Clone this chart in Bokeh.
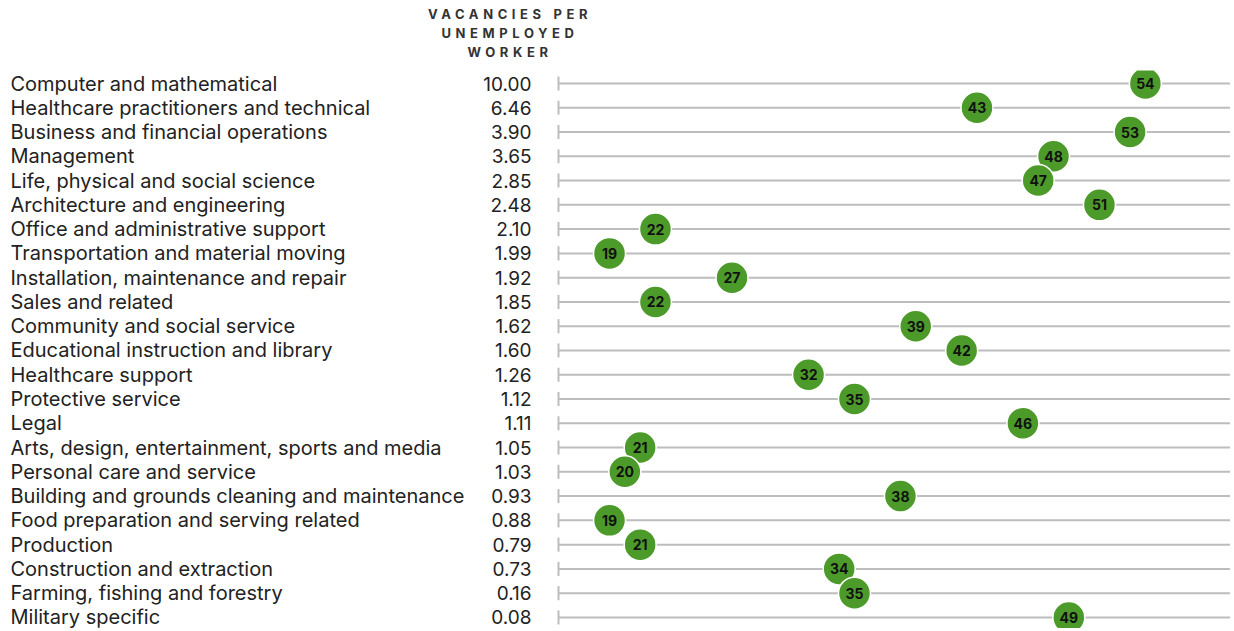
from bokeh.plotting import figure
from bokeh.models import ColumnDataSource, Range1d, Div
from bokeh.layouts import column
from bokeh.core.properties import value
from bokeh.embed import file_html
from bokeh.resources import INLINE

occupations = [
    "Computer and mathematical",
    "Healthcare practitioners and technical",
    "Business and financial operations",
    "Management",
    "Life, physical and social science",
    "Architecture and engineering",
    "Office and administrative support",
    "Transportation and material moving",
    "Installation, maintenance and repair",
    "Sales and related",
    "Community and social service",
    "Educational instruction and library",
    "Healthcare support",
    "Protective service",
    "Legal",
    "Arts, design, entertainment, sports and media",
    "Personal care and service",
    "Building and grounds cleaning and maintenance",
    "Food preparation and serving related",
    "Production",
    "Construction and extraction",
    "Farming, fishing and forestry",
    "Military specific",
]
vacancies = ["10.00", "6.46", "3.90", "3.65", "2.85", "2.48", "2.10", "1.99", "1.92",
             "1.85", "1.62", "1.60", "1.26", "1.12", "1.11", "1.05", "1.03", "0.93",
             "0.88", "0.79", "0.73", "0.16", "0.08"]
dot_values = [54, 43, 53, 48, 47, 51, 22, 19, 27, 22, 39, 42, 32, 35, 46, 21, 20, 38,
              19, 21, 34, 35, 49]

# layout constants (pixel geometry)
W, H_HEAD, H = 1230, 70, 558
K = 15.31            # px per unit
X0 = -20.78          # data value at figure left edge
ROW = 24.27          # px per row
def px(xpix):        # page x -> data x
    return X0 + xpix / K

n = len(occupations)
rows = list(range(n))
src = ColumnDataSource(dict(
    y=rows, occ=occupations, vac=vacancies, v=dot_values,
    lbl=[str(d) for d in dot_values],
    y_top=[r - 0.29 for r in rows], y_bot=[r + 0.29 for r in rows],
    x_cat=[px(10)] * n, x_vac=[px(531)] * n,
    x_start=[px(558)] * n, x_end=[X0 + W / K + 1] * n,
))

top = -13 / ROW
p = figure(width=W, height=H, output_backend="svg", toolbar_location=None,
           x_range=Range1d(X0, X0 + W / K),
           y_range=Range1d(top + H / ROW, top),
           min_border=0, outline_line_color=None)
p.axis.visible = False
p.grid.visible = False
p.background_fill_color = "white"
p.border_fill_color = "white"

GRAY = "#bdbdbd"
p.segment(x0="x_start", y0="y", x1="x_end", y1="y", source=src,
          line_color=GRAY, line_width=2)
p.segment(x0="x_start", y0="y_top", x1="x_start", y1="y_bot", source=src,
          line_color=GRAY, line_width=2)

p.text(x="x_cat", y="y", text="occ", source=src, text_font=value("Inter"),
       text_font_size="20px", text_color="#222222", text_baseline="middle",
       text_align="left")
p.text(x="x_vac", y="y", text="vac", source=src, text_font=value("Inter"),
       text_font_size="19px", text_color="#222222", text_baseline="middle",
       text_align="right")

p.scatter(x="v", y="y", source=src, size=32, fill_color="#4c9a2a",
          line_color="white", line_width=1.5)
p.text(x="v", y="y", text="lbl", source=src, text_font=value("Inter"),
       text_font_size="14px", text_font_style="bold", text_color="#111111",
       text_baseline="middle", text_align="center")

head = Div(
    text=('<div style="width:220px;margin-left:400px;padding-top:5px;'
          'font-family:Inter,sans-serif;font-weight:700;font-size:13px;'
          'letter-spacing:4.6px;line-height:19px;text-align:center;color:#333;">'
          'VACANCIES PER<br>UNEMPLOYED<br>WORKER</div>'),
    width=W, height=H_HEAD, margin=(0, 0, 0, 0),
)

layout = column(head, p, spacing=0)
open("out.html", "w").write(file_html(layout, INLINE))
